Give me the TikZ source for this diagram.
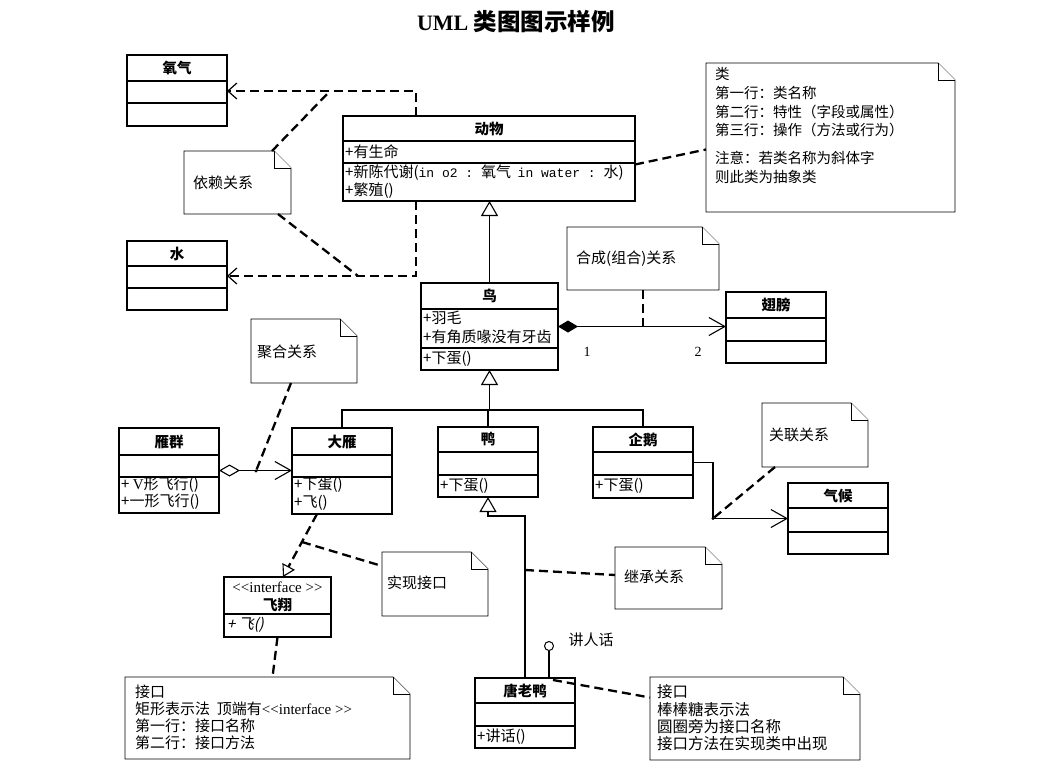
\documentclass[tikz,border=0pt]{standalone}
\usepackage{fontspec}
\setmainfont{Liberation Serif}
\setmonofont{Liberation Mono}
\newfontfamily\zh{Noto Sans CJK SC}[AutoFakeSlant=0.2]
\usetikzlibrary{arrows.meta,fit}
\newcommand\umlclass[7]{%
  \node[classbox, fit={(#2,#3) (#4,#5)}] (#1) {};
  \draw[rowline] (#2,#6) -- (#4,#6);
  \draw[rowline] (#2,#7) -- (#4,#7);
}
\newcommand\umlnote[5]{%
  \node[fit={(#2,#3) (#4,#5)}, inner sep=0pt, outer sep=0pt] (#1) {};
  \draw[noteline] (#1.north west) -- ([xshift=-17pt]#1.north east) -- ([yshift=-17pt]#1.north east) -- (#1.south east) -- (#1.south west) -- cycle;
  \draw[noteline] ([xshift=-17pt]#1.north east) |- ([yshift=-17pt]#1.north east);
}
\tikzset{
  classbox/.style={draw, line width=1.6pt, inner sep=0pt, outer sep=0pt},
  rowline/.style={line width=1.3pt},
  noteline/.style={line width=0.9pt, fill=white},
  base/.style={font=\zh\fontsize{15}{18}\selectfont, inner sep=0pt},
  txt/.style={base, anchor=west},
  ctxt/.style={txt, font=\zh\fontsize{14.5}{18}\selectfont},
  ltxt/.style={txt, font=\zh\fontsize{15.5}{18}\selectfont},
  cname/.style={font=\zh\bfseries\fontsize{14.5}{17}\selectfont, inner sep=0pt},
  conn/.style={line width=1.1pt},
  notelink/.style={line width=2.3pt, dash pattern=on 9pt off 5pt},
  dep/.style={notelink, -{Straight Barb[length=9pt,width=16pt,line width=1.2pt]}},
  bigbarb/.style={-{Straight Barb[length=16pt,width=18pt,line width=1.1pt]}},
  inh/.style={conn, -{Triangle[open,length=15pt,width=17pt,line width=1.1pt]}},
  real/.style={notelink, -{Triangle[open,length=12pt,width=14pt,line width=1.1pt]}},
  comp/.style={conn, {Diamond[length=20pt,width=12pt]}-{Straight Barb[length=16pt,width=18pt,line width=1.1pt]}},
  agg/.style={conn, {Diamond[open,length=21pt,width=12pt,line width=1.1pt]}-{Straight Barb[length=16pt,width=18pt,line width=1.1pt]}},
  assoc/.style={conn, bigbarb}
}
\begin{document}
\begin{tikzpicture}[x=1pt,y=-1pt]
\useasboundingbox (0,0) rectangle (1056,782);
\fill[white] (0,0) rectangle (1056,782);

% title
\node[font=\bfseries\fontsize{22}{26}\selectfont, inner sep=0pt] (title) at (516,22) {UML {\zh\fontsize{23.5}{26}\selectfont 类图图示样例}};

% classes
\umlclass{o2}{127}{55}{227}{126}{81}{103}
\umlclass{water}{127}{241}{227}{310}{266}{288}
\umlclass{animal}{343}{116}{635}{201}{141}{163}
\umlclass{bird}{421}{283}{558}{370}{309}{348}
\umlclass{wing}{726}{292}{826}{363}{318}{341}
\umlclass{flock}{119}{428}{219}{513}{455}{477}
\umlclass{goose}{292}{428}{392}{514}{455}{477}
\umlclass{duck}{438}{427}{538}{497}{452}{475}
\umlclass{penguin}{593}{427}{693}{498}{452}{475}
\umlclass{climate}{788}{483}{888}{554}{508}{532}
\umlclass{fly}{224}{577}{331}{637}{614}{614}
\umlclass{donald}{475}{678}{575}{748}{703}{726}

% class texts
\node[cname] (o2n) at (177,68) {氧气};
\node[cname] (watern) at (177,253.5) {水};
\node[cname, font=\zh\bfseries\itshape\fontsize{14.5}{17}\selectfont] (animaln) at (489,128.5) {动物};
\node[txt] (animala) at (345,152) {+有生命};
\node[txt] (animalo1) at (345,173) {+新陈代谢({\ttfamily\fontsize{13}{16}\selectfont in o2 : }氧气\ \ {\ttfamily\fontsize{13}{16}\selectfont in water : }水)};
\node[txt] (animalo2) at (345,191) {+繁殖()};
\node[cname, font=\zh\bfseries\itshape\fontsize{14.5}{17}\selectfont] (birdn) at (489.5,296) {鸟};
\node[txt] (birda1) at (423,318) {+羽毛};
\node[txt] (birda2) at (423,337) {+有角质喙没有牙齿};
\node[txt] (birdo) at (423,359) {+下蛋()};
\node[cname] (wingn) at (776,305) {翅膀};
\node[cname] (flockn) at (169,441.5) {雁群};
\node[txt] (flocko1) at (121,485) {+\ {\rmfamily V}形飞行()};
\node[txt] (flocko2) at (121,502) {+一形飞行()};
\node[cname] (goosen) at (342,441.5) {大雁};
\node[txt] (gooseo1) at (294,485) {+下蛋()};
\node[txt] (gooseo2) at (294,503) {+飞()};
\node[cname] (duckn) at (488,439.5) {鸭};
\node[txt] (ducko) at (440,486) {+下蛋()};
\node[cname] (penguinn) at (643,439.5) {企鹅};
\node[txt] (penguino) at (595,486) {+下蛋()};
\node[cname] (climaten) at (838,495.5) {气候};
\node[base, font=\rmfamily\fontsize{15}{17}\selectfont] (flys) at (277.5,587) {<{}<interface >{}>};
\node[cname] (flyn) at (277.5,605) {飞翔};
\node[txt, font=\zh\itshape\fontsize{15}{17}\selectfont] (flyo) at (227,625) {+ 飞()};
\node[cname] (donaldn) at (525,690.5) {唐老鸭};
\node[txt] (donaldo) at (477,737) {+讲话()};

% notes
\umlnote{depnote}{184}{151}{291}{214}
\umlnote{classnote}{706}{63}{955}{212}
\umlnote{compnote}{567}{227}{719}{290}
\umlnote{aggnote}{251}{319}{357}{383}
\umlnote{assocnote}{762}{403}{868}{467}
\umlnote{realnote}{382}{552}{488}{616}
\umlnote{inhnote}{615}{547}{722}{609}
\umlnote{ifacenote}{125}{677}{410}{759}
\umlnote{lollinote}{650}{677}{860}{760}

\node[txt] (deptext) at (193,183) {依赖关系};
\node[ctxt] (cl1) at (715,74) {类};
\node[ctxt] (cl2) at (715,93) {第一行：类名称};
\node[ctxt] (cl3) at (715,112) {第二行：特性（字段或属性）};
\node[ctxt] (cl4) at (715,130) {第三行：操作（方法或行为）};
\node[ctxt] (cl5) at (715,158) {注意：若类名称为斜体字};
\node[ctxt] (cl6) at (715,177) {则此类为抽象类};
\node[txt] (comptext) at (576,259) {合成(组合)关系};
\node[txt] (aggtext) at (257,352) {聚合关系};
\node[txt] (assoctext) at (769,435) {关联关系};
\node[txt] (realtext) at (387,583) {实现接口};
\node[txt] (inhtext) at (624,577) {继承关系};
\node[txt] (if1) at (135,692) {接口};
\node[txt] (if2) at (135,709) {矩形表示法\ \ 顶端有{\rmfamily <{}<interface >{}>}};
\node[txt] (if3) at (135,726) {第一行：接口名称};
\node[txt] (if4) at (135,743) {第二行：接口方法};
\node[ltxt] (lo1) at (657,692) {接口};
\node[ltxt] (lo2) at (657,710) {棒棒糖表示法};
\node[ltxt] (lo3) at (657,727) {圆圈旁为接口名称};
\node[ltxt] (lo4) at (657,744) {接口方法在实现类中出现};

% dependency
\coordinate (d1) at (416,91);
\coordinate (d2) at (416,276);
\coordinate (d3) at (330,91);
\coordinate (d4) at (358,276);
\draw[dep] (animal.north -| d1) -- (d1) -- (o2.east |- d1);
\draw[dep] (animal.south -| d2) -- (d2) -- (water.east |- d2);
\draw[notelink] ([xshift=-19pt]depnote.north east) -- (d3);
\draw[notelink] ([xshift=-13pt]depnote.south east) -- (d4);
\draw[notelink] ([yshift=-6pt]animal.east) -- ([yshift=-12pt]classnote.west);

% generalization bird -> animal
\draw[inh] (bird.north) -- (animal.south -| bird.north);

% composition
\draw[comp] (bird.east) -- (bird.east -| wing.west);
\node[base, font=\rmfamily\fontsize{14}{17}\selectfont] (m1) at (587,352) {1};
\node[base, font=\rmfamily\fontsize{14}{17}\selectfont] (m2) at (698,352) {2};
\draw[notelink] (compnote.south) -- (compnote.south |- bird.east);

% generalization of goose, duck, penguin
\coordinate (hub) at (489.5,410);
\draw[inh] (hub) -- (bird.south);
\draw[conn] (goose.north) |- (hub) -| (penguin.north);
\draw[conn] (duck.north) -- (duck.north |- hub);

% aggregation
\draw[agg] (flock.east) -- (goose.west |- flock.east);
\coordinate (g1) at (256,471);
\draw[notelink] ([xshift=-13pt]aggnote.south) -- (g1);
\fill (g1) circle (1.6pt);

% association
\coordinate (a1) at (713,518.5);
\draw[assoc] (penguin.east) -| (a1) -- (climate.west);
\draw[notelink] ([xshift=13pt]assocnote.south west) -- (a1);
\fill (a1) circle (1.6pt);

% realization
\draw[real] ([xshift=-25pt]goose.south) -- ([xshift=5.5pt]fly.north);
\coordinate (r1) at (302,542);
\draw[notelink] (r1) -- ([yshift=18pt]realnote.west);
\draw[notelink] (fly.south) -- ([xshift=5pt]ifacenote.north);

% generalization donald -> duck
\coordinate (k1) at (488,516);
\draw[inh] (donald.north) |- (k1) -- (duck.south);
\coordinate (k2) at (525,570);
\draw[notelink] (k2) -- ([yshift=3pt]inhnote.west);

% lollipop
\node[circle, draw, line width=1pt, minimum size=9pt, inner sep=0pt] (lolly) at (549,646) {};
\draw[conn] (lolly.south) -- (lolly.south |- donald.north);
\node[base] (lollylbl) at (591,640) {讲人话};
\draw[notelink] ([xshift=28pt,yshift=-2pt]donald.north) -- ([yshift=21pt]lollinote.west);
\end{tikzpicture}
\end{document}
